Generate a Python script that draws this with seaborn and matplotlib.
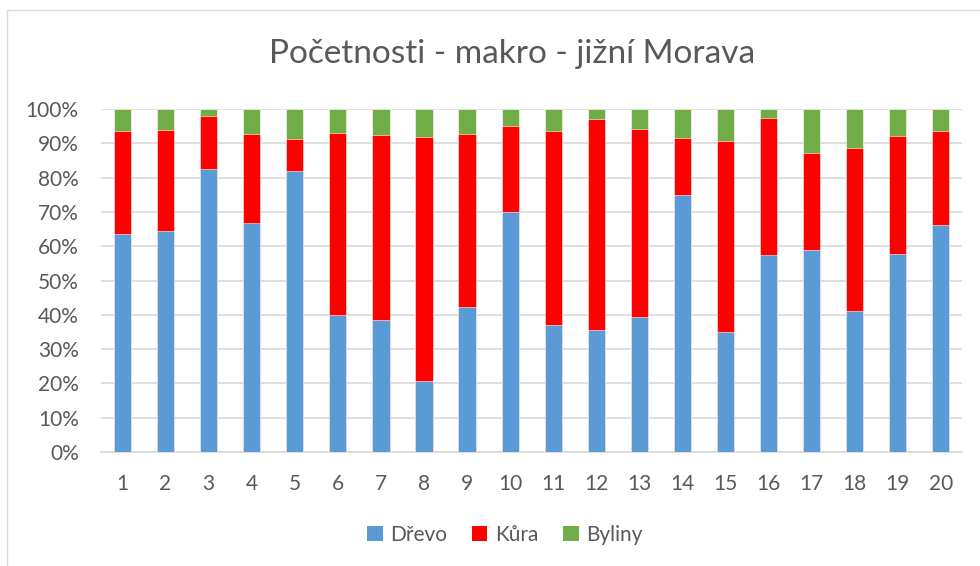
import matplotlib
matplotlib.use("Agg")
import matplotlib.pyplot as plt
import seaborn as sns
import numpy as np
import pandas as pd
from matplotlib.patches import Patch
from matplotlib.lines import Line2D
from matplotlib.ticker import PercentFormatter

categories = [str(i) for i in range(1, 21)]
drevo = [63.6, 64.5, 82.5, 66.8, 81.9, 40.0, 38.5, 20.7, 42.3, 70.1,
         37.0, 35.6, 39.4, 75.0, 35.0, 57.4, 58.8, 41.2, 57.8, 66.2]
kura = [30.0, 29.4, 15.5, 26.0, 9.5, 53.1, 54.0, 71.2, 50.5, 24.9,
        56.5, 61.6, 54.8, 16.6, 55.7, 40.1, 28.5, 47.5, 34.4, 27.4]
byliny = [6.4, 6.1, 2.0, 7.2, 8.6, 6.9, 7.5, 8.1, 7.2, 5.0,
          6.5, 2.8, 5.8, 8.4, 9.3, 2.5, 12.7, 11.3, 7.8, 6.4]
series_names = ["Dřevo", "Kůra", "Byliny"]
colors = ["#5B9BD5", "#FF0000", "#70AD47"]
title = "Početnosti - makro - jižní Morava"

sns.set_theme(style="white")
plt.rcParams["font.family"] = ["Lato", "DejaVu Sans"]
text_color = "#595959"

df = pd.DataFrame({"cat": categories, "Dřevo": drevo, "Kůra": kura, "Byliny": byliny})
df["s1"] = df["Dřevo"]
df["s2"] = df["Dřevo"] + df["Kůra"]
df["s3"] = df["s2"] + df["Byliny"]

fig = plt.figure(figsize=(9.8, 5.66), dpi=100)
ax = fig.add_axes([0.103, 0.2014, 0.879, 0.606])

for col, c in zip(["s3", "s2", "s1"], [colors[2], colors[1], colors[0]]):
    sns.barplot(data=df, x="cat", y=col, color=c, width=0.4, ax=ax,
                saturation=1, edgecolor="white", linewidth=0.4, zorder=3)

ax.set_ylim(0, 100)
ax.set_xlim(-0.5, 19.5)
ax.set_yticks(np.arange(0, 101, 10))
ax.yaxis.set_major_formatter(PercentFormatter(decimals=0))
ax.grid(axis="y", color="#D9D9D9", linewidth=1.2, zorder=0)
ax.set_axisbelow(True)
for s in ["top", "right", "left"]:
    ax.spines[s].set_visible(False)
ax.spines["bottom"].set_color("#D9D9D9")
ax.spines["bottom"].set_linewidth(1.2)
ax.set_xlabel("")
ax.set_ylabel("")
ax.tick_params(axis="y", length=0, pad=16, labelsize=15, labelcolor=text_color)
ax.tick_params(axis="x", length=0, pad=16, labelsize=15, labelcolor=text_color)

fig.text(0.523, 0.905, title, ha="center", va="center", fontsize=24, color=text_color)

handles = [Patch(facecolor=c, edgecolor="none") for c in colors]
fig.legend(handles, series_names, loc="center", bbox_to_anchor=(0.515, 0.055),
           ncol=3, frameon=False, fontsize=15, labelcolor=text_color,
           handlelength=0.75, handleheight=0.75, handletextpad=0.35, columnspacing=1.2)

fig.add_artist(Line2D([7/980, 7/980], [0, 1 - 10/566], transform=fig.transFigure,
                      color="#D9D9D9", linewidth=1))
fig.add_artist(Line2D([7/980, 1], [1 - 10/566, 1 - 10/566], transform=fig.transFigure,
                      color="#D9D9D9", linewidth=1))

fig.savefig("out.png", dpi=100)
